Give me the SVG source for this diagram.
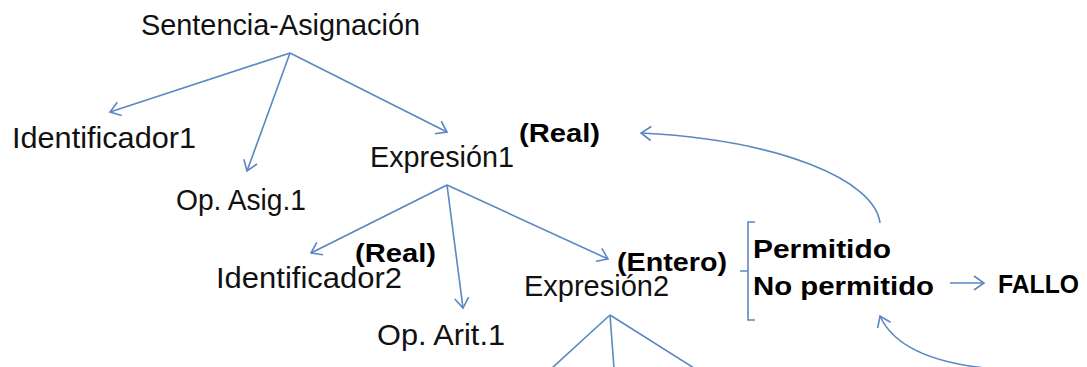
<svg xmlns="http://www.w3.org/2000/svg" width="1087" height="367" viewBox="0 0 1087 367">
<style>
.t{font-family:"Liberation Sans",Arial,sans-serif;font-size:30px;fill:#111}
.b{font-family:"Liberation Sans",Arial,sans-serif;font-size:26px;font-weight:bold;fill:#000}
.c{fill:none;stroke:#5b87c2;stroke-width:1.6}
</style>
<defs>
<marker id="ah" markerUnits="userSpaceOnUse" markerWidth="20" markerHeight="20" refX="12" refY="10" orient="auto">
<polyline points="2,3 12,10 2,17" fill="none" stroke="#5b87c2" stroke-width="1.6"/>
</marker>
</defs>
<rect width="1087" height="367" fill="#fff"/>
<g id="connectors">
<line class="c" x1="290" y1="53" x2="110" y2="112" marker-end="url(#ah)"/>
<line class="c" x1="290" y1="53" x2="247" y2="171" marker-end="url(#ah)"/>
<line class="c" x1="290" y1="53" x2="447" y2="132" marker-end="url(#ah)"/>
<line class="c" x1="447" y1="185" x2="311" y2="253" marker-end="url(#ah)"/>
<line class="c" x1="447" y1="185" x2="463" y2="308" marker-end="url(#ah)"/>
<line class="c" x1="447" y1="185" x2="608" y2="259" marker-end="url(#ah)"/>
<line class="c" x1="610" y1="315" x2="552" y2="368"/>
<line class="c" x1="610" y1="315" x2="614" y2="368"/>
<line class="c" x1="610" y1="315" x2="694" y2="368"/>
<path class="c" d="M880 223 C875 180 780 140 641 133" marker-end="url(#ah)"/>
<path class="c" d="M985 368 C930 362 893 345 880 316" marker-end="url(#ah)"/>
<line class="c" x1="950" y1="283" x2="984" y2="283" marker-end="url(#ah)"/>
<path class="c" d="M755 222 H748 V320 H755 M748 271 H740"/>
</g>
<g id="n-sentencia"><text class="t" x="141" y="35" textLength="279" lengthAdjust="spacingAndGlyphs">Sentencia-Asignación</text></g>
<g id="n-identificador1"><text class="t" x="12" y="148" textLength="184" lengthAdjust="spacingAndGlyphs">Identificador1</text></g>
<g id="n-opasig1"><text class="t" x="176" y="210" textLength="130" lengthAdjust="spacingAndGlyphs">Op. Asig.1</text></g>
<g id="n-expresion1"><text class="t" x="370" y="167" textLength="144" lengthAdjust="spacingAndGlyphs">Expresión1</text>
<text class="b" x="519" y="142" textLength="81" lengthAdjust="spacingAndGlyphs">(Real)</text></g>
<g id="n-identificador2"><text class="t" x="216" y="288" textLength="186" lengthAdjust="spacingAndGlyphs">Identificador2</text>
<text class="b" x="355" y="262" textLength="81" lengthAdjust="spacingAndGlyphs">(Real)</text></g>
<g id="n-oparit1"><text class="t" x="377" y="345" textLength="128" lengthAdjust="spacingAndGlyphs">Op. Arit.1</text></g>
<g id="n-expresion2"><text class="t" x="524" y="296" textLength="145" lengthAdjust="spacingAndGlyphs">Expresión2</text>
<text class="b" x="617" y="271" textLength="110" lengthAdjust="spacingAndGlyphs">(Entero)</text></g>
<g id="n-permitido"><text class="b" x="753" y="258" textLength="138" lengthAdjust="spacingAndGlyphs">Permitido</text></g>
<g id="n-nopermitido"><text class="b" x="753" y="295" textLength="181" lengthAdjust="spacingAndGlyphs">No permitido</text></g>
<g id="n-fallo"><text class="b" x="998" y="293" font-size="28" textLength="81" lengthAdjust="spacingAndGlyphs">FALLO</text></g>
</svg>
